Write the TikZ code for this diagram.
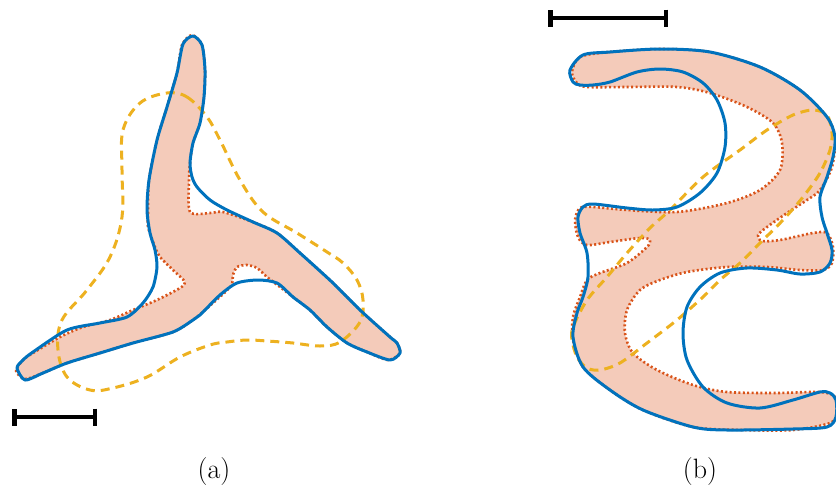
\documentclass[tikz,border=0pt]{standalone}
\usetikzlibrary{arrows.meta}
\definecolor{cblue}{HTML}{0072BD}
\definecolor{cred}{HTML}{D95319}
\definecolor{cyellow}{HTML}{EDB120}
\definecolor{cfill}{HTML}{F4CBBA}
\tikzset{
  every picture/.style={line join=round},
  region/.style={fill=cfill, draw=none},
  redline/.style={draw=cred, line width=2.6pt, dash pattern=on 2pt off 2.4pt},
  yelline/.style={draw=cyellow, line width=3pt, dash pattern=on 9pt off 6pt},
  blueline/.style={draw=cblue, line width=3pt},
  scalebar/.style={{Bar[width=17pt,line width=4.5pt]}-{Bar[width=17pt,line width=4.5pt]}, line width=4.5pt, draw=black},
  panel/.style={font=\fontsize{28}{32}\selectfont},
}

\begin{document}
\begin{tikzpicture}[x=1pt, y=-1pt]
  \useasboundingbox (0,0) rectangle (836,493);
  % (a)
  \def\shapea{(192,35) (202,45) (205,70) (204,97) (200,123) (193,143) (190,163) (189,180) (190,212) (210,213) (223,212) (253,222) (277,233) (300,253) (333,283) (360,310) (390,337) (397,343) (400,353) (388,360) (367,352) (347,343) (327,327) (310,310) (293,297) (280,287) (267,277) (257,268) (247,265) (237,267) (233,275) (231,286) (213,303) (193,320) (173,332) (133,343) (100,353) (67,363) (43,373) (25,379) (16,371) (23,360) (33,353) (60,337) (83,327) (110,320) (133,310) (157,300) (180,288) (185,282) (173,270) (160,257) (155,247) (148,227) (148,213) (149,180) (157,140) (167,107) (177,73) (182,45)}
  \fill[region] plot[smooth cycle, tension=0.45] coordinates {\shapea};
  \draw[redline] plot[smooth cycle, tension=0.45] coordinates {\shapea};
  \draw[yelline] plot[smooth cycle, tension=0.6] coordinates {(167,93) (187,97) (207,117) (220,140) (240,180) (263,212) (297,233) (327,252) (343,263) (357,280) (363,300) (360,322) (340,342) (320,346) (293,343) (267,341) (247,340) (227,342) (210,345) (180,357) (147,377) (113,388) (90,390) (67,377) (58,350) (62,320) (87,290) (110,257) (122,217) (122,170) (123,130) (140,103)};
  \draw[blueline] plot[smooth cycle, tension=0.45] coordinates {(193,36) (202,45) (205,70) (204,97) (200,123) (193,143) (190,163) (192,177) (197,187) (210,200) (227,210) (253,222) (277,233) (300,253) (333,283) (360,310) (390,337) (397,343) (400,353) (390,360) (367,352) (347,343) (327,327) (310,310) (293,297) (277,283) (258,280) (237,283) (220,295) (200,315) (193,320) (173,332) (133,343) (100,353) (67,363) (43,373) (25,380) (17,368) (23,360) (33,352) (67,330) (100,323) (127,317) (143,303) (153,287) (157,267) (155,250) (150,233) (147,210) (149,180) (157,140) (167,107) (177,73) (183,44)};
  \draw[scalebar] (12,417) -- (97,417);
  \node[panel] (lbla) at (214,472) {(a)};
  % (b)
  \def\shapeb{(572,72) (580,57) (610,52) (660,49) (710,52) (760,67) (800,90) (827,117) (835,137) (832,167) (820,190) (807,200) (787,213) (767,227) (758,235) (762,241) (780,240) (813,233) (827,233) (833,247) (832,263) (823,270) (800,270) (767,267) (727,267) (687,272) (660,280) (640,290) (627,310) (625,333) (633,353) (657,370) (693,385) (727,392) (777,393) (820,392) (835,397) (837,413) (830,423) (793,430) (743,430) (693,427) (643,410) (610,390) (583,367) (573,340) (573,317) (580,297) (587,280) (600,273) (627,263) (647,247) (650,240) (640,238) (610,242) (587,245) (578,237) (575,220) (580,208) (593,207) (627,210) (677,212) (727,203) (760,190) (780,170) (782,143) (773,123) (747,107) (710,93) (677,87) (627,87) (587,87) (577,83)}
  \fill[region] plot[smooth cycle, tension=0.5] coordinates {\shapeb};
  \draw[redline] plot[smooth cycle, tension=0.5] coordinates {\shapeb};
  \draw[yelline] plot[smooth cycle, tension=0.5] coordinates {(830,150) (820,173) (803,197) (783,220) (760,243) (740,263) (720,280) (703,297) (677,320) (647,343) (620,363) (600,370) (587,368) (577,357) (572,340) (573,327) (587,300) (607,277) (627,253) (650,228) (670,210) (703,177) (740,150) (767,130) (793,115) (813,110) (827,115) (832,133)};
  \draw[blueline] plot[smooth cycle, tension=0.5] coordinates {(570,70) (583,55) (610,52) (660,49) (710,52) (760,67) (800,90) (827,117) (835,137) (833,157) (827,177) (820,197) (822,217) (827,233) (832,250) (830,263) (820,272) (800,274) (777,270) (747,268) (720,273) (700,287) (687,307) (683,333) (687,360) (703,387) (727,403) (760,408) (793,400) (820,392) (830,393) (836,400) (836,417) (827,427) (793,429) (727,430) (693,427) (643,410) (610,390) (583,367) (573,337) (577,313) (583,297) (588,277) (587,253) (580,233) (578,217) (583,207) (593,204) (627,208) (653,210) (677,207) (700,193) (717,173) (725,147) (725,123) (717,100) (703,83) (683,72) (660,69) (637,72) (610,82) (593,85) (580,85) (573,82)};
  \draw[scalebar] (548,18) -- (668,18);
  \node[panel] (lblb) at (700,472) {(b)};
\end{tikzpicture}
\end{document}
